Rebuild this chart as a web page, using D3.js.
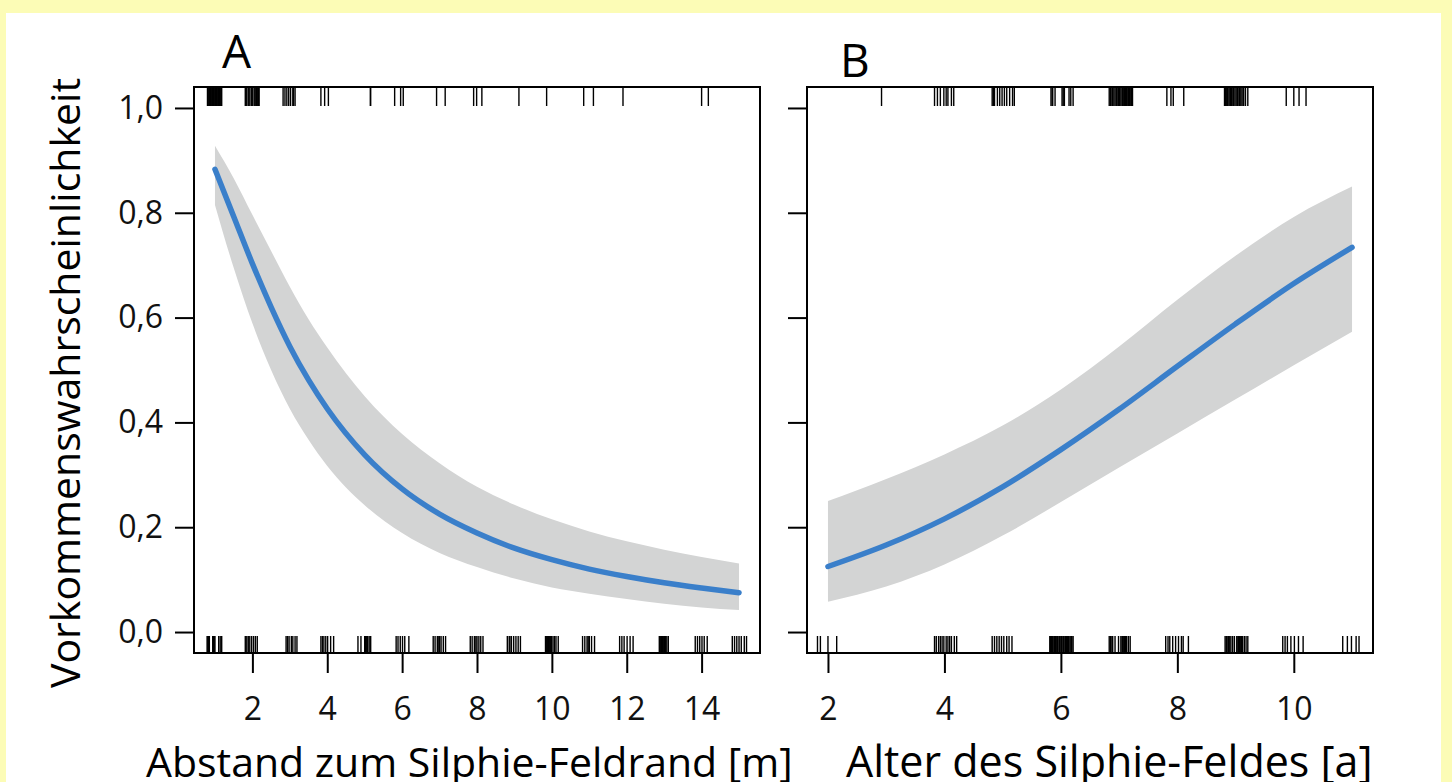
<!DOCTYPE html>
<meta charset="utf-8">
<style>
body { margin: 0; background: #fcfcb6; }
svg { display: block; }
.axis text { font-family: "Open Sans", sans-serif; font-size: 32px; fill: #111; }
.axis line { stroke: #000; stroke-width: 2px; }
.frame { fill: none; stroke: #000; stroke-width: 2px; }
.rug line { stroke: #000; stroke-width: 1.4px; }
.band { fill: #d3d4d4; }
.fit { fill: none; stroke: #3a7fca; stroke-width: 5.5px; stroke-linecap: round; }
.title { font-family: "Open Sans", sans-serif; font-size: 41px; fill: #000; }
.panel-label { font-family: "Open Sans", sans-serif; font-size: 46px; fill: #000; }
</style>
<svg width="1452" height="782"></svg>
<script src="https://d3js.org/d3.v7.min.js"></script>
<script>

// panel A: Abstand zum Silphie-Feldrand [m]
var distX     = [1, 1.5, 2, 2.5, 3, 3.5, 4, 5, 6, 7, 8, 9, 10, 11, 12, 13, 14, 15];
var distFit   = [0.883, 0.793, 0.703, 0.620, 0.545, 0.481, 0.426, 0.338, 0.273, 0.225, 0.189, 0.160, 0.138, 0.120, 0.106, 0.094, 0.084, 0.075];
var distUpper = [0.928, 0.866, 0.796, 0.727, 0.659, 0.597, 0.543, 0.450, 0.378, 0.322, 0.277, 0.243, 0.215, 0.192, 0.173, 0.157, 0.143, 0.131];
var distLower = [0.815, 0.695, 0.589, 0.500, 0.426, 0.367, 0.317, 0.242, 0.189, 0.151, 0.124, 0.102, 0.085, 0.073, 0.063, 0.054, 0.047, 0.042];
var distTicks = [2, 4, 6, 8, 10, 12, 14];

// rug: presence (top) and absence (bottom), jittered
var distPresent = [0.80, 0.82, 0.84, 0.86, 0.88, 0.90, 0.92, 0.94, 0.96, 0.98, 1.00, 1.02, 1.04, 1.06, 1.08, 1.10, 1.12, 1.14, 1.16, 1.18,
  1.81, 1.83, 1.85, 1.89, 1.93, 1.97, 1.99, 2.01, 2.05, 2.09, 2.11, 2.13, 2.16, 2.18,
  2.82, 2.87, 2.92, 2.97, 3.02, 3.08, 3.10, 3.14, 3.83, 3.93, 4.03, 5.15, 5.16,
  5.80, 5.96, 6.03, 6.92, 7.15, 7.91, 7.99, 8.13, 9.12, 9.86, 10.85, 11.11, 11.90, 14.00, 14.18];
var distAbsent = [0.79, 0.81, 0.83, 0.85, 0.94, 0.96, 0.98, 1.00, 1.10, 1.14, 1.18,
  1.81, 1.85, 1.89, 1.93, 1.98, 2.03, 2.08, 2.13,
  2.90, 2.94, 2.98, 3.04, 3.08, 3.14, 3.19,
  3.83, 3.87, 3.91, 3.96, 4.01, 4.09, 4.17,
  4.82, 4.90, 5.00, 5.02, 5.04, 5.06, 5.08, 5.12, 5.16,
  5.84, 5.89, 5.95, 6.01, 6.07, 6.18,
  6.83, 6.88, 6.94, 6.98, 7.00, 7.04, 7.10, 7.16,
  7.82, 7.87, 7.93, 7.97, 8.00, 8.05, 8.10, 8.16,
  8.81, 8.86, 8.88, 8.92, 8.98, 9.04, 9.10, 9.16,
  9.83, 9.85, 9.87, 9.89, 9.91, 9.93, 9.95, 9.97, 9.99, 10.03, 10.07, 10.11, 10.17,
  10.82, 10.88, 10.94, 10.97, 11.00, 11.06, 11.14,
  11.81, 11.87, 11.93, 12.01, 12.09, 12.17,
  12.87, 12.89, 12.91, 12.93, 12.95, 12.97, 12.99, 13.01, 13.03, 13.07, 13.11,
  13.83, 13.89, 13.95, 14.01, 14.07, 14.15,
  14.82, 14.88, 14.94, 15.00, 15.06, 15.14, 15.20];

// panel B: Alter des Silphie-Feldes [a]
var ageX     = [2, 3, 4, 5, 6, 7, 8, 9, 10, 11];
var ageFit   = [0.125, 0.166, 0.216, 0.277, 0.348, 0.425, 0.507, 0.588, 0.665, 0.734];
var ageUpper = [0.250, 0.292, 0.339, 0.394, 0.463, 0.545, 0.634, 0.718, 0.792, 0.850];
var ageLower = [0.058, 0.087, 0.129, 0.184, 0.248, 0.314, 0.379, 0.444, 0.509, 0.573];
var ageTicks = [2, 4, 6, 8, 10];

var agePresent = [2.92, 3.83, 3.88, 3.93, 3.99, 4.03, 4.06, 4.12, 4.16,
  4.82, 4.84, 4.86, 4.91, 4.95, 4.99, 5.03, 5.07, 5.12, 5.17, 5.20,
  5.83, 5.85, 5.86, 5.90, 6.02, 6.04, 6.06, 6.14, 6.17, 6.21,
  6.83, 6.85, 6.86, 6.88, 6.89, 6.91, 6.93, 6.95, 6.96, 6.98, 6.99, 7.01, 7.03, 7.05, 7.06, 7.08, 7.09, 7.11, 7.13, 7.15, 7.16, 7.18, 7.19, 7.21, 7.23,
  7.82, 7.89, 7.93, 8.11,
  8.81, 8.83, 8.84, 8.86, 8.87, 8.89, 8.91, 8.93, 8.94, 8.96, 8.97, 8.99, 9.01, 9.03, 9.04, 9.06, 9.07, 9.09, 9.11, 9.13, 9.14, 9.17, 9.21,
  9.87, 10.00, 10.09, 10.21];
var ageAbsent = [1.82, 1.87, 2.00, 2.15,
  3.83, 3.86, 3.90, 3.93, 3.96, 3.99, 4.03, 4.06, 4.09, 4.12, 4.17, 4.21,
  4.82, 4.86, 4.90, 4.94, 4.98, 5.02, 5.07, 5.11, 5.16,
  5.81, 5.82, 5.84, 5.85, 5.86, 5.88, 5.89, 5.91, 5.92, 5.94, 5.95, 5.97, 5.98, 6.00, 6.01, 6.02, 6.04, 6.05, 6.07, 6.08, 6.10, 6.11, 6.13, 6.14, 6.16, 6.18, 6.19, 6.21,
  6.83, 6.85, 6.86, 6.88, 6.89, 6.93, 6.99, 7.03, 7.05, 7.06, 7.08, 7.09, 7.11, 7.13, 7.16, 7.19,
  7.80, 7.84, 7.87, 7.92, 7.97, 8.02, 8.07, 8.10, 8.19,
  8.82, 8.84, 8.85, 8.87, 8.88, 8.90, 8.92, 8.95, 8.98, 9.02, 9.04, 9.05, 9.07, 9.08, 9.10, 9.12, 9.15, 9.18, 9.21,
  9.81, 9.85, 9.89, 9.95, 10.01, 10.08, 10.16,
  10.84, 10.92, 10.99, 11.07, 11.12];

var yTicks = [0, 0.2, 0.4, 0.6, 0.8, 1.0];

var svg = d3.select("svg");

// white sheet on the yellow page
svg.append("rect")
    .attr("x", 6).attr("y", 13)
    .attr("width", 1435).attr("height", 780)
    .attr("fill", "#fff");

var frameTop = 87, frameBottom = 653;
var y = d3.scaleLinear().domain([-0.04, 1.04]).range([frameBottom, frameTop]);

var de = d3.formatLocale({decimal: ",", thousands: ".", grouping: [3], currency: ["", " €"]});
var fmt = de.format(".1f");

function panel(opt) {
  var x = d3.scaleLinear().domain(opt.domain).range([opt.left, opt.right]);
  var g = svg.append("g");

  var pts = opt.xs.map(function(v, i) {
    return {x: v, fit: opt.fit[i], lo: opt.lower[i], hi: opt.upper[i]};
  });

  g.append("path")
      .datum(pts)
      .attr("class", "band")
      .attr("d", d3.area()
        .curve(d3.curveMonotoneX)
        .x(function(d) { return x(d.x); })
        .y0(function(d) { return y(d.lo); })
        .y1(function(d) { return y(d.hi); }));

  g.append("path")
      .datum(pts)
      .attr("class", "fit")
      .attr("d", d3.line()
        .curve(d3.curveMonotoneX)
        .x(function(d) { return x(d.x); })
        .y(function(d) { return y(d.fit); }));

  var rug = g.append("g").attr("class", "rug");
  rug.selectAll(".top")
    .data(opt.present)
    .enter().append("line")
      .attr("x1", function(d) { return x(d); })
      .attr("x2", function(d) { return x(d); })
      .attr("y1", frameTop)
      .attr("y2", frameTop + 19);
  rug.selectAll(".bot")
    .data(opt.absent)
    .enter().append("line")
      .attr("x1", function(d) { return x(d); })
      .attr("x2", function(d) { return x(d); })
      .attr("y1", frameBottom)
      .attr("y2", frameBottom - 17);

  g.append("g")
      .attr("class", "axis")
      .attr("transform", "translate(0," + frameBottom + ")")
      .call(d3.axisBottom(x).tickValues(opt.ticks).tickSize(20).tickPadding(24))
      .call(function(a) { a.select(".domain").remove(); });

  var ya = g.append("g")
      .attr("class", "axis")
      .attr("transform", "translate(" + opt.left + ",0)")
      .call(d3.axisLeft(y).tickValues(yTicks).tickSize(19).tickPadding(12).tickFormat(fmt))
      .call(function(a) { a.select(".domain").remove(); });
  if (!opt.yLabels) ya.selectAll("text").remove();

  g.append("rect")
      .attr("class", "frame")
      .attr("x", opt.left).attr("y", frameTop)
      .attr("width", opt.right - opt.left)
      .attr("height", frameBottom - frameTop);

  g.append("text")
      .attr("class", "title")
      .attr("x", opt.titleX)
      .attr("y", 777)
      .style("font-size", opt.titleSize + "px")
      .text(opt.title);

  g.append("text")
      .attr("class", "panel-label")
      .attr("x", opt.labelX)
      .attr("y", opt.labelY)
      .text(opt.label);
}

panel({
  domain: [0.44, 15.56], left: 194, right: 760,
  xs: distX, fit: distFit, upper: distUpper, lower: distLower,
  present: distPresent, absent: distAbsent, ticks: distTicks,
  yLabels: true, title: "Abstand zum Silphie-Feldrand [m]", titleX: 146, titleSize: 41,
  label: "A", labelX: 222, labelY: 68
});

panel({
  domain: [1.64, 11.36], left: 807, right: 1373,
  xs: ageX, fit: ageFit, upper: ageUpper, lower: ageLower,
  present: agePresent, absent: ageAbsent, ticks: ageTicks,
  yLabels: false, title: "Alter des Silphie-Feldes [a]", titleX: 846, titleSize: 43,
  label: "B", labelX: 840, labelY: 77
});

svg.append("text")
    .attr("class", "title")
    .attr("transform", "translate(80,383) rotate(-90)")
    .attr("text-anchor", "middle")
    .text("Vorkommenswahrscheinlichkeit");

</script>
